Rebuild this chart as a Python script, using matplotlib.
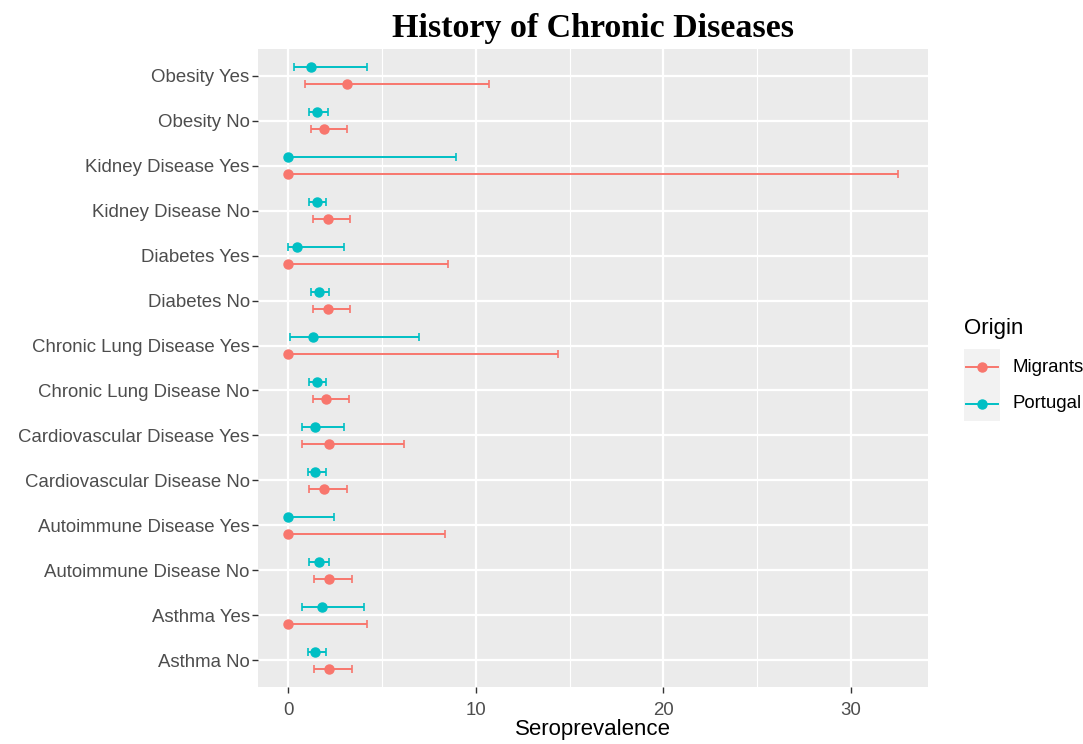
import numpy as np
import matplotlib
matplotlib.use("Agg")
from matplotlib import pyplot as plt
from matplotlib.lines import Line2D
from matplotlib.patches import Rectangle

# categories, bottom to top
categories = ['Asthma No', 'Asthma Yes', 'Autoimmune Disease No', 'Autoimmune Disease Yes',
              'Cardiovascular Disease No', 'Cardiovascular Disease Yes',
              'Chronic Lung Disease No', 'Chronic Lung Disease Yes',
              'Diabetes No', 'Diabetes Yes', 'Kidney Disease No', 'Kidney Disease Yes',
              'Obesity No', 'Obesity Yes']

migrants_est = [2.19, 0.0, 2.19, 0.0, 1.91, 2.19, 2.02, 0.0, 2.10, 0.0, 2.10, 0.0, 1.91, 3.13]
migrants_lo = [1.36, 0.0, 1.36, 0.0, 1.11, 0.74, 1.29, 0.0, 1.29, 0.0, 1.29, 0.0, 1.19, 0.89]
migrants_hi = [3.40, 4.21, 3.40, 8.37, 3.15, 6.14, 3.24, 14.40, 3.26, 8.53, 3.31, 32.50, 3.15, 10.70]

portugal_est = [1.43, 1.77, 1.63, 0.0, 1.43, 1.43, 1.54, 1.29, 1.63, 0.48, 1.54, 0.0, 1.54, 1.22]
portugal_lo = [1.05, 0.74, 1.11, 0.0, 1.05, 0.74, 1.11, 0.07, 1.22, 0.0, 1.11, 0.0, 1.11, 0.30]
portugal_hi = [2.02, 4.03, 2.19, 2.42, 2.02, 2.99, 2.02, 6.99, 2.19, 2.99, 2.00, 8.94, 2.10, 4.21]

origins = ['Migrants', 'Portugal']
colors = {'Migrants': '#F8766D', 'Portugal': '#00BFC4'}

TEXT_GREY = '#4D4D4D'
FONT = 'Liberation Sans'


def draw_series(ax, est, lo, hi, offset, color):
    est = np.array(est)
    y = np.arange(len(categories)) + offset
    xerr = [est - np.array(lo), np.array(hi) - est]
    ax.errorbar(est, y, xerr=xerr, fmt='o', color=color, ecolor=color,
                markersize=6.5, elinewidth=1.4, capsize=3, capthick=1.2, zorder=3)


def main():
    fig = plt.figure(figsize=(10.83, 7.44), dpi=100)
    W, H = 1083, 744
    ax = fig.add_axes([258 / W, (H - 687) / H, (928 - 258) / W, (687 - 49) / H])
    ax.set_facecolor('#EBEBEB')
    for s in ax.spines.values():
        s.set_visible(False)

    draw_series(ax, migrants_est, migrants_lo, migrants_hi, -0.19, colors['Migrants'])
    draw_series(ax, portugal_est, portugal_lo, portugal_hi, 0.19, colors['Portugal'])

    xmax = max(max(migrants_hi), max(portugal_hi))
    ax.set_xlim(-0.05 * xmax, 1.05 * xmax)
    ax.set_ylim(-0.6, len(categories) - 0.4)

    ax.set_xticks([0, 10, 20, 30])
    ax.set_xticks([5, 15, 25], minor=True)
    ax.set_yticks(np.arange(len(categories)))
    ax.set_yticklabels(categories)
    ax.grid(which='major', color='white', linewidth=1.6)
    ax.grid(which='minor', axis='x', color='white', linewidth=0.8)
    ax.set_axisbelow(True)
    ax.tick_params(which='major', length=4, width=1, color='#333333',
                   labelcolor=TEXT_GREY, labelsize=13.4)
    ax.tick_params(axis='x', pad=7)
    ax.tick_params(axis='y', pad=2)
    ax.tick_params(which='minor', length=0)
    for lab in ax.get_xticklabels() + ax.get_yticklabels():
        lab.set_fontfamily(FONT)

    ax.set_xlabel('Seroprevalence', fontsize=16, fontfamily=FONT, color='black', labelpad=0)

    fig.text(593 / W, 1 - 37 / H, 'History of Chronic Diseases', ha='center', va='baseline',
             fontsize=24.5, fontweight='bold', fontfamily='Liberation Serif')

    # legend
    fig.text(964 / W, 1 - 329 / H, 'Origin', ha='left', va='center',
             fontsize=16, fontfamily=FONT)
    fig.add_artist(Rectangle((964 / W, 1 - 421 / H), 36 / W, 72 / H,
                             transform=fig.transFigure, facecolor='#F2F2F2', edgecolor='none'))
    for i, name in enumerate(origins):
        yy = 1 - (367 + 37 * i) / H
        fig.add_artist(Line2D([966 / W, 998 / W], [yy, yy], transform=fig.transFigure,
                              color=colors[name], linewidth=1.4))
        fig.add_artist(Line2D([982 / W], [yy], transform=fig.transFigure, marker='o',
                              markersize=6.5, color=colors[name]))
        fig.text(1012 / W, yy, name, ha='left', va='center', fontsize=13.4,
                 fontfamily=FONT, color='black')

    fig.savefig('out.png', dpi=100)


if __name__ == "__main__":
    main()
